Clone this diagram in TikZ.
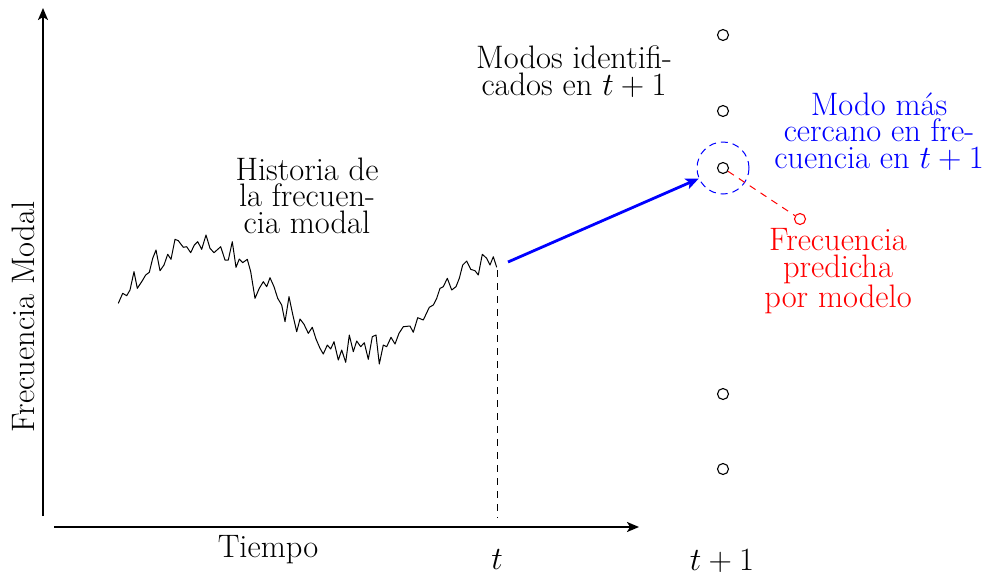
\RequirePackage{fix-cm}
\documentclass[tikz,border=0pt]{standalone}
\usepackage{fontspec}
\usetikzlibrary{arrows.meta}
\begin{document}
\begin{tikzpicture}[x=1pt,y=-1pt,
  lbl/.style={font=\fontsize{32.5}{26.5}\selectfont, inner sep=0pt, align=center, anchor=base},
  mode/.style={circle, draw, line width=1.1pt, minimum size=11pt, inner sep=0pt},
  axis/.style={line width=2pt, -{Stealth[length=12pt,width=10pt,inset=3pt]}},
  guide/.style={line width=1pt, dash pattern=on 7pt off 6pt},
]
\useasboundingbox (0,0) rectangle (982,576);
% axes
\coordinate (yb) at (43,516);
\coordinate (yt) at (43,8);
\coordinate (xl) at (54,527);
\coordinate (xr) at (639,527);
\draw[axis] (yb) -- (yt);
\draw[axis] (xl) -- (xr);
% history curve
\draw[line width=1pt, line join=round] plot coordinates {
(118.3,303.3) (122.7,293.3) (126.7,295.7) (130,290) (134,271.7) (137.3,288.3)
(141.7,281.7) (145.7,275) (149.3,272.3) (152.7,258.3) (156,250) (160,270.7)
(164,265) (167.7,254.3) (171,259.3) (175,239.3) (178.3,240.7) (183.3,247.3)
(186.7,246.7) (190.7,252.7) (194.3,245) (197.7,241.7) (201.7,249.3) (206,235)
(210,248.3) (214,252.7) (220.7,246.7) (225,260) (228.3,260) (232.3,241.7)
(236,267.3) (239.3,259) (242.7,262.7) (247.3,259.3) (250.7,271.7) (255,298.3)
(259.3,288.3) (263.3,281.7) (266.7,286.7) (270,277.7) (274,286.7) (277.7,298.3)
(281.7,305) (285,321.7) (289,296.7) (292.7,314.3) (296.7,331.7) (300,319)
(304,324.3) (308.3,333.3) (312.3,327.3) (316,339) (320,348.3) (323.3,354)
(327.3,345) (330.7,349) (334,341.7) (338.3,360) (341.7,350) (345.7,362.3)
(349.3,335) (353.3,351.7) (356.7,341) (360.7,346.7) (364.3,342.7) (368.3,359.3)
(372.3,336.7) (376,335) (379.3,364) (383.3,345) (386.7,346.7) (391,337.3)
(395,344) (399,333.3) (403.3,326.7) (410,326) (413.3,332.3) (417.7,317.7)
(423.3,320) (429.3,307.3) (433.3,305) (436.7,298.3) (440,288.3) (443.3,286.7)
(447.3,278.3) (451.7,290) (456,286.7) (459.3,278.3) (462.7,265) (466.7,261)
(470.7,269.3) (475,270.7) (478.3,275) (482.3,254.3) (486.7,258.3) (490,265)
(493.3,256.7) (496.7,267.3)};
% vertical guide at t
\coordinate (dtop) at (497,270);
\coordinate (dbot) at (497,518);
\draw[guide] (dtop) -- (dbot);
% identified modes
\node[mode] (m1) at (723,35) {};
\node[mode] (m2) at (723,111) {};
\node[mode] (m3) at (723,168) {};
\node[mode] (m4) at (723,394) {};
\node[mode] (m5) at (723,469) {};
\node[circle, draw=blue, line width=1pt, dash pattern=on 7pt off 5pt, minimum size=52pt, inner sep=0pt] (near) at (m3) {};
\node[mode, draw=red] (pred) at (800,219) {};
\draw[red, guide] (m3) -- (pred);
% arrow
\coordinate (astart) at (508,262);
\draw[blue, line width=2.8pt, -{Stealth[length=13pt,width=11pt,inset=3pt]}] (astart) -- (near);
% labels (anchor = baseline of last line)
\node[lbl] (hist) at (307,233) {Historia de\\la frecuen-\\cia modal};
\node[lbl] (modos) at (574,95) {Modos identifi-\\cados en $t+1$};
\node[lbl, text=blue] (cerc) at (879,168) {Modo más\\cercano en fre-\\cuencia en $t+1$};
\node[lbl, text=red] (fpred) at (838,307) {Frecuencia\\predicha\\por modelo};
\node[lbl] (tiempo) at (268,557) {Tiempo};
\node[lbl] (tlab) at (497,569) {$t$};
\node[lbl] (t1lab) at (722,570) {$t+1$};
\node[lbl, rotate=90] (fm) at (34,317) {Frecuencia Modal};
\end{tikzpicture}
\end{document}
